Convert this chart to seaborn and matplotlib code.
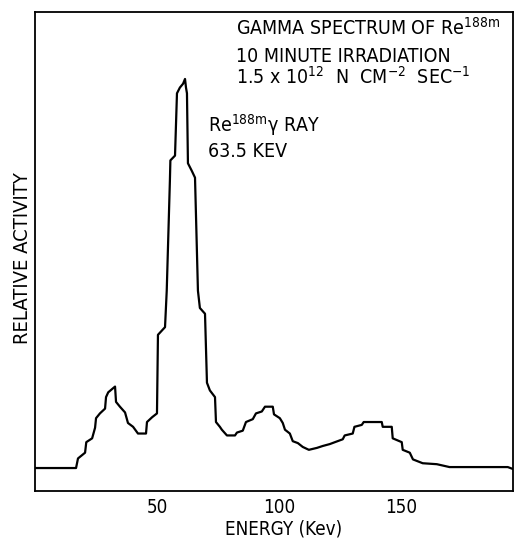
import matplotlib
matplotlib.use("Agg")
import matplotlib.pyplot as plt
import pandas as pd
import seaborn as sns

# energy (keV) and relative activity
energy = [0, 16.8, 17.6, 20.5, 21, 23.4, 24.6, 25, 26.6, 28.7, 29.1, 30, 32.8,
          33.2, 34.8, 36.9, 38.1, 40.2, 42.2, 45.5, 45.9, 48, 50, 50.4, 53.3,
          54, 55.3, 55.5, 57.4, 58.2, 59.4, 60.7, 61.5, 61.9, 62.3, 62.7, 64.3,
          65.6, 66.8, 67.6, 69.7, 70.5, 71.7, 73.8, 74.2, 75.8, 76.6, 78.7, 82,
          82.8, 85.2, 86.5, 89.3, 90.6, 93, 94.3, 97.5, 98, 100.4, 101.6, 102.5,
          104.5, 105.7, 107.8, 109.8, 112.3, 115.6, 118, 120.9, 123, 126.2, 127,
          130.3, 131, 134, 134.8, 142.2, 142.6, 146.3, 146.7, 150.4, 150.8,
          153.7, 155, 159, 164.8, 170, 183.6, 193.9, 196]
activity = [0.24, 0.24, 0.34, 0.40, 0.51, 0.55, 0.66, 0.76, 0.81, 0.86, 0.98,
            1.03, 1.09, 0.93, 0.88, 0.82, 0.71, 0.67, 0.60, 0.60, 0.72, 0.77,
            0.81, 1.63, 1.71, 2.09, 3.24, 3.45, 3.50, 4.15, 4.21, 4.25, 4.30,
            4.21, 4.15, 3.42, 3.34, 3.27, 2.09, 1.91, 1.85, 1.13, 1.05, 0.98,
            0.72, 0.67, 0.64, 0.58, 0.58, 0.61, 0.63, 0.72, 0.75, 0.81, 0.83,
            0.88, 0.88, 0.80, 0.76, 0.71, 0.64, 0.60, 0.52, 0.50, 0.46, 0.43,
            0.45, 0.47, 0.49, 0.51, 0.54, 0.58, 0.60, 0.67, 0.69, 0.72, 0.72,
            0.67, 0.67, 0.55, 0.51, 0.43, 0.40, 0.33, 0.29, 0.28, 0.25, 0.25,
            0.25, 0.23]

x_ticks = [50, 100, 150]
y_ticks = [1, 2, 3, 4]

df = pd.DataFrame({"energy": energy, "activity": activity})

sns.set_style("white")
plt.rcParams["font.family"] = ["DejaVu Sans"]
plt.rcParams["font.stretch"] = "condensed"
plt.rcParams["mathtext.default"] = "regular"
plt.rcParams["text.color"] = "black"
plt.rcParams["axes.labelcolor"] = "black"

fig = plt.figure(figsize=(5.16, 5.39), dpi=100)
ax = fig.add_axes([0.068, 0.089, 0.926, 0.889])

sns.lineplot(data=df, x="energy", y="activity", sort=False, estimator=None,
             color="black", linewidth=1.6, ax=ax)

ax.set_xlim(0, 196)
ax.set_ylim(0, 5)
ax.set_xticks(x_ticks)
ax.set_xticklabels([str(t) for t in x_ticks], fontsize=13.5)
ax.set_yticks(y_ticks)
ax.set_yticklabels([])
ax.tick_params(axis="x", direction="in", length=7, width=1.2, pad=5, colors="black")
ax.tick_params(axis="y", direction="in", length=10, width=1.2, colors="black")
for s in ax.spines.values():
    s.set_color("black")
    s.set_linewidth(1.3)

ax.set_xlabel("ENERGY (Kev)", fontsize=13.5)
ax.xaxis.set_label_coords(0.519, -0.06)
ax.set_ylabel("RELATIVE ACTIVITY", fontsize=14.5)
ax.yaxis.set_label_coords(-0.006, 0.486)

fs = 14
fig.text(0.457, 0.935, "GAMMA SPECTRUM OF Re$^{188m}$", fontsize=fs, va="baseline")
fig.text(0.457, 0.885, "10 MINUTE IRRADIATION", fontsize=fs, va="baseline")
fig.text(0.457, 0.844, "1.5 x 10$^{12}$  N  CM$^{-2}$  SEC$^{-1}$", fontsize=fs, va="baseline")
fig.text(0.403, 0.755, "Re$^{188m}$γ RAY", fontsize=fs, va="baseline")
fig.text(0.403, 0.709, "63.5 KEV", fontsize=fs, va="baseline")

fig.savefig("out.png", dpi=100)
